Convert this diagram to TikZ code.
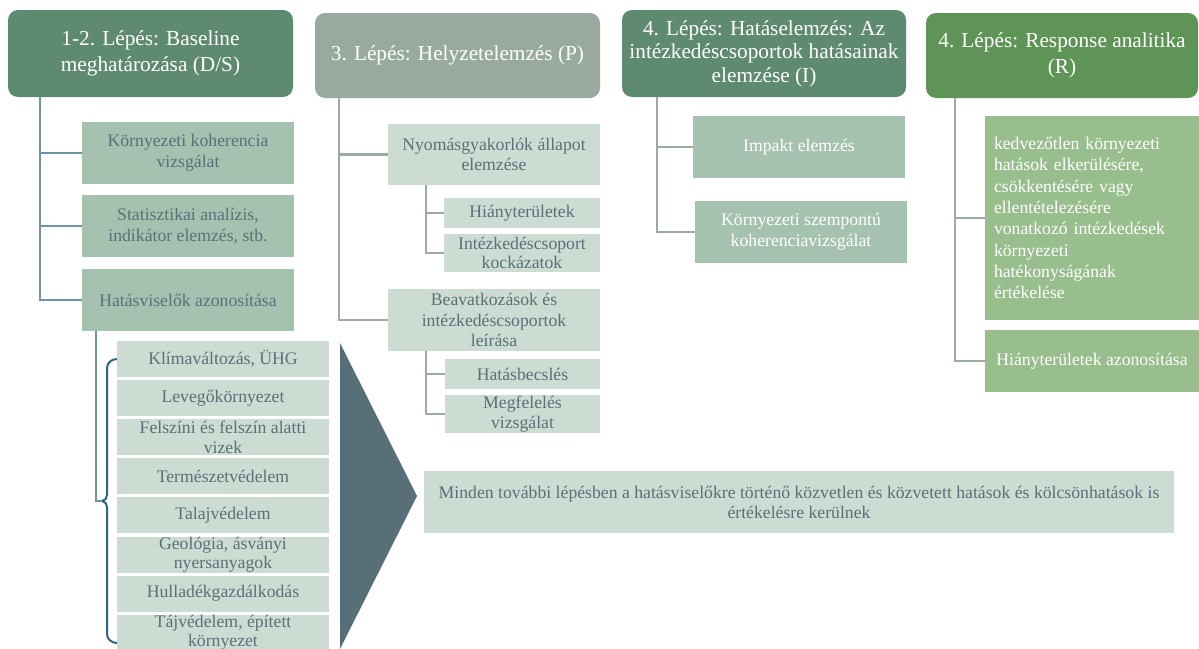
\documentclass[tikz,border=0pt]{standalone}
\usepackage{fontspec}
\setmainfont{Liberation Serif}

\definecolor{hdrgreen}{HTML}{5E8B6F}
\definecolor{hdrgray}{HTML}{98AA9D}
\definecolor{hdrleaf}{HTML}{5E9455}
\definecolor{midbox}{HTML}{A5C2B0}
\definecolor{palebox}{HTML}{CDDCD3}
\definecolor{leafbox}{HTML}{98BE8D}
\definecolor{slatetxt}{HTML}{5A7078}
\definecolor{bluewire}{HTML}{7193A1}
\definecolor{graywire}{HTML}{9CAB9F}
\definecolor{bracecol}{HTML}{2F6486}
\definecolor{arrowcol}{HTML}{566F78}

\newcommand{\hdrfont}{\fontsize{21.3}{26.5}\selectfont}
\newcommand{\subfont}{\fontsize{17.7}{20.5}\selectfont}

\begin{document}
\begin{tikzpicture}[x=1pt,y=-1pt,
  every node/.style={inner sep=0pt,outer sep=0pt,anchor=north west},
  header/.style={rounded corners=10pt,text=white,align=center,font=\hdrfont,minimum height=87},
  subbox/.style={align=center,font=\subfont,minimum width=212,minimum height=62},
  darktext/.style={text=slatetxt},
  wire/.style={line width=2.2pt}]
\useasboundingbox (0,0) rectangle (1199,648);

% headers
\node[header,fill=hdrgreen,minimum width=285] (h1) at (8,10) {1-2. Lépés: Baseline\\meghatározása (D/S)};
\node[header,fill=hdrgray,minimum width=285,minimum height=85] (h2) at (315,13) {3. Lépés: Helyzetelemzés (P)};
\node[header,fill=hdrgreen,minimum width=284,font=\fontsize{21.3}{23.5}\selectfont] (h3) at (622,10) {4. Lépés: Hatáselemzés: Az\\intézkedéscsoportok hatásainak\\elemzése (I)};
\node[header,fill=hdrleaf,minimum width=272,minimum height=85] (h4) at (926,13) {4. Lépés: Response analitika\\(R)};

% trunk positions
\coordinate (tr1) at (40,0);
\coordinate (tr2) at (339,0);
\coordinate (tr3) at (657,0);
\coordinate (tr4) at (955,0);
\coordinate (sub) at (426,0);
\coordinate (tr5) at (96,0);

% 1-2. lepes
\node[subbox,fill=midbox,darktext] (k1) at (82,122) {Környezeti koherencia\\vizsgálat};
\node[subbox,fill=midbox,darktext] (k2) at (82,195) {Statisztikai analízis,\\indikátor elemzés, stb.};
\node[subbox,fill=midbox,darktext] (k3) at (82,269) {Hatásviselők azonosítása};
\foreach \k in {k1,k2,k3}
  \draw[wire,bluewire] (h1.south -| tr1) |- (\k.west);

% 3. lepes
\node[subbox,fill=palebox,darktext,minimum height=61] (n1) at (388,124) {Nyomásgyakorlók állapot\\elemzése};
\node[subbox,fill=palebox,darktext,minimum width=156,minimum height=30] (g1) at (444,198) {Hiányterületek};
\node[subbox,fill=palebox,darktext,minimum width=156,minimum height=38,font=\fontsize{17.7}{19.5}\selectfont] (g2) at (444,234) {Intézkedéscsoport\\kockázatok};
\node[subbox,fill=palebox,darktext] (n2) at (388,289) {Beavatkozások és\\intézkedéscsoportok\\leírása};
\node[subbox,fill=palebox,darktext,minimum width=155,minimum height=30] (g3) at (445,359) {Hatásbecslés};
\node[subbox,fill=palebox,darktext,minimum width=155,minimum height=38,font=\fontsize{17.7}{19.5}\selectfont] (g4) at (445,395) {Megfelelés\\vizsgálat};
\foreach \n in {n1,n2}
  \draw[wire,graywire] (h2.south -| tr2) |- (\n.west);
\foreach \g in {g1,g2}
  \draw[wire,graywire] (n1.south -| sub) |- (\g.west);
\foreach \g in {g3,g4}
  \draw[wire,graywire] (n2.south -| sub) |- (\g.west);

% 4. lepes: hataselemzes
\node[subbox,fill=midbox,text=white] (i1) at (693,116) {Impakt elemzés};
\node[subbox,fill=midbox,text=white] (i2) at (695,201) {Környezeti szempontú\\koherenciavizsgálat};
\foreach \i in {i1,i2}
  \draw[wire,graywire] (h3.south -| tr3) |- (\i.west);

% 4. lepes: response
\node[subbox,fill=leafbox,text=white,align=left,text width=196,inner xsep=9pt,minimum width=214,minimum height=204,font=\fontsize{17.7}{21.3}\selectfont] (r1) at (985,116) {kedvezőtlen környezeti\\hatások elkerülésére,\\csökkentésére vagy\\ellentételezésére\\vonatkozó intézkedések\\környezeti\\hatékonyságának\\értékelése};
\node[subbox,fill=leafbox,text=white,minimum width=214] (r2) at (985,330) {Hiányterületek azonosítása};
\foreach \r in {r1,r2}
  \draw[wire,graywire] (h4.south -| tr4) |- (\r.west);

% hatasviselok
\foreach \t [count=\i] in {{Klímaváltozás, ÜHG},{Levegőkörnyezet},{Felszíni és felszín alatti\\vizek},{Természetvédelem},{Talajvédelem},{Geológia, ásványi\\nyersanyagok},{Hulladékgazdálkodás},{Tájvédelem, épített\\környezet}}
  \node[subbox,fill=palebox,darktext,minimum height=36,font=\fontsize{17.7}{19.5}\selectfont] (s\i) at (117,{341+39.1*(\i-1)}) {\t};

% bracket round the list
\coordinate (btop) at (117,359);
\coordinate (bbot) at (117,643);
\coordinate (btip) at (102,501);
\draw[bracecol,line width=2pt] (btop) to[out=180,in=90] (107,368) -- (107,495)
  to[out=270,in=0] (btip) to[out=0,in=90] (107,507) -- (107,634) to[out=270,in=180] (bbot);
\draw[wire,bluewire] (k3.south -| tr5) |- (btip);

% arrow
\fill[arrowcol] (340,343) -- (417,496) -- (340,649) -- cycle;

\node[subbox,fill=palebox,darktext,minimum width=750,minimum height=62,font=\fontsize{17.7}{20}\selectfont] (b1) at (424,471) {Minden további lépésben a hatásviselőkre történő közvetlen és közvetett hatások és kölcsönhatások is\\értékelésre kerülnek};
\end{tikzpicture}
\end{document}
